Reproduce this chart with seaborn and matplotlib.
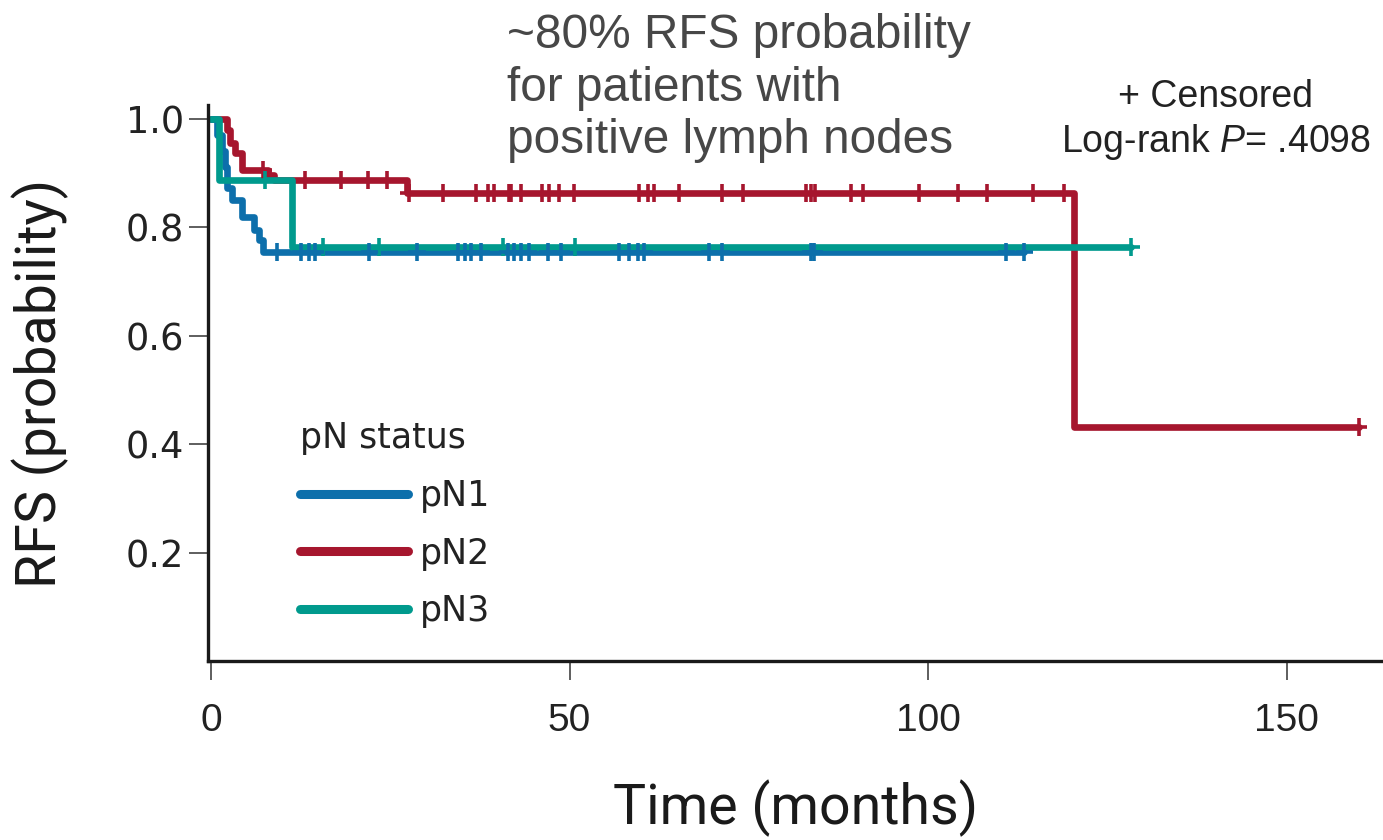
import numpy as np
import pandas as pd
import matplotlib
matplotlib.use("Agg")
import matplotlib.pyplot as plt
from matplotlib.lines import Line2D
import seaborn as sns

# ---- data -------------------------------------------------------------
groups = ["pN1", "pN2", "pN3"]
group_colors = ["#0d6fab", "#a6162e", "#009a8d"]

# Kaplan-Meier estimates: event times (months) and RFS after each event
pn1_event_times = [0.8, 1.5, 2.0, 2.3, 3.0, 4.3, 6.0, 6.7, 7.3]
pn1_survival = [0.97, 0.94, 0.91, 0.872, 0.85, 0.818, 0.795, 0.776, 0.754]
pn1_last_followup = 113.4
pn1_censored = [9.2, 12.6, 13.7, 14.5, 22.1, 28.7, 34.5, 35.4, 36.3, 37.7,
                41.4, 42.3, 43.3, 44.3, 47.0, 48.8, 56.9, 58.3, 59.5, 60.4,
                69.5, 71.2, 83.7, 84.1, 110.9, 113.4]

pn2_event_times = [2.3, 2.6, 3.4, 4.4, 8.0, 8.8, 27.3, 120.3]
pn2_survival = [0.979, 0.955, 0.936, 0.905, 0.896, 0.887, 0.863, 0.431]
pn2_last_followup = 160.0
pn2_censored = [7.3, 13.1, 18.2, 21.9, 24.6, 27.6, 32.4, 37.0, 38.7, 39.4,
                41.5, 41.9, 43.3, 46.1, 47.2, 48.5, 50.6, 59.7, 61.0, 61.8,
                65.2, 71.2, 74.2, 83.0, 83.6, 84.2, 89.3, 90.9, 98.7, 104.2,
                108.2, 114.6, 118.9, 160.0]

pn3_event_times = [1.2, 11.3]
pn3_survival = [0.887, 0.763]
pn3_last_followup = 128.3
pn3_censored = [7.5, 15.7, 23.5, 40.7, 50.8, 128.3]

x_ticks = [0, 50, 100, 150]
y_ticks = [0.2, 0.4, 0.6, 0.8, 1.0]

curves = {
    "pN1": (pn1_event_times, pn1_survival, pn1_last_followup, pn1_censored),
    "pN2": (pn2_event_times, pn2_survival, pn2_last_followup, pn2_censored),
    "pN3": (pn3_event_times, pn3_survival, pn3_last_followup, pn3_censored),
}

# ---- tidy tables for the step curves and the censoring ticks ------------
step_rows, cens_rows = [], []
for g, (ev, sv, last, cens) in curves.items():
    times = [0.0] + list(ev) + [last]
    surv = [1.0] + list(sv) + [sv[-1]]
    for t, s in zip(times, surv):
        step_rows.append({"time": t, "rfs": s, "group": g})
    levels = np.array([1.0] + list(sv))
    for t in cens:
        idx = np.searchsorted(ev, t, side="right")
        cens_rows.append({"time": t, "rfs": levels[idx], "group": g})

steps = pd.DataFrame(step_rows)
cens = pd.DataFrame(cens_rows)
palette = dict(zip(groups, group_colors))

# ---- style ------------------------------------------------------------
sns.set_theme(style="white")
plt.rcParams["font.family"] = ["Liberation Sans", "DejaVu Sans"]
plt.rcParams["mathtext.fontset"] = "custom"
plt.rcParams["mathtext.rm"] = "Liberation Sans"
plt.rcParams["mathtext.it"] = "Liberation Sans:italic"

fig = plt.figure(figsize=(13.83, 8.4), dpi=100)
ax = fig.add_axes([0.1504, 0.2131, 0.8496, 0.6619])

draw_order = ["pN2", "pN1", "pN3"]
sns.lineplot(data=steps, x="time", y="rfs", hue="group", hue_order=draw_order,
             palette=palette, estimator=None, sort=False, units="group",
             drawstyle="steps-post", linewidth=4.8, legend=False, ax=ax)

cens_sorted = pd.concat([cens[cens.group == g] for g in ["pN2", "pN3", "pN1"]])
sns.scatterplot(data=cens_sorted, x="time", y="rfs", hue="group",
                palette=palette, marker="+", s=160, linewidth=2.6,
                legend=False, ax=ax, zorder=5)

# ---- axes -------------------------------------------------------------
ax.set_xlim(-0.4, 163.4)
ax.set_ylim(0, 1.025)
ax.set_xticks(x_ticks)
ax.set_yticks(y_ticks)
ax.set_xticklabels([str(v) for v in x_ticks])
ax.set_yticklabels([f"{v:.1f}" for v in y_ticks],
                   family=["DejaVu Sans"])
sns.despine(ax=ax)
for side in ("left", "bottom"):
    ax.spines[side].set_linewidth(2.4)
    ax.spines[side].set_color("#1a1a1a")
ax.tick_params(axis="y", which="major", direction="out", length=14, width=1.1,
               color="#333333", pad=3, labelsize=26.5, labelcolor="#222222")
ax.tick_params(axis="x", which="major", direction="out", length=13.5, width=1.1,
               color="#333333", pad=17, labelsize=28, labelcolor="#222222")
ax.tick_params(axis="x", bottom=True)
ax.tick_params(axis="y", left=True)

ax.set_xlabel("Time (months)", fontsize=40, family=["Roboto", "DejaVu Sans"],
              color="#1a1a1a")
ax.set_ylabel("RFS (probability)", fontsize=40, family=["Roboto", "DejaVu Sans"],
              color="#1a1a1a")
ax.xaxis.set_label_coords(0.5, -0.264)
ax.xaxis.label.set_va("center")
ax.yaxis.set_label_coords(-0.1425, 0.5)
ax.yaxis.label.set_va("center")

# ---- legend -----------------------------------------------------------
handles = [Line2D([], [], color=palette[g], linewidth=6.5) for g in groups]
leg = ax.legend(handles, groups, title="pN status", loc="upper left",
                bbox_to_anchor=(0.0783, 0.431), frameon=False, borderpad=0,
                borderaxespad=0, prop={"family": "DejaVu Sans", "size": 25},
                title_fontproperties={"family": "DejaVu Sans", "size": 25},
                handlelength=3.1, handletextpad=0.35, labelspacing=0.68,
                alignment="left")
for txt in leg.get_texts():
    txt.set_color("#222222")
leg.get_title().set_color("#222222")

# ---- annotations --------------------------------------------------------
fig.text(507 / 1383, 1 - 13 / 840,
         "~80% RFS probability\nfor patients with\npositive lymph nodes",
         ha="left", va="top", fontsize=34.4, color="#474747", linespacing=1.22)
fig.text(1216 / 1383, 1 - 97 / 840, "+ Censored", ha="center", va="center",
         fontsize=27, color="#222222")
fig.text(1216 / 1383, 1 - 142 / 840, "Log-rank $P$= .4098", ha="center",
         va="center", fontsize=27, color="#222222")

fig.savefig("out.png", dpi=100)
